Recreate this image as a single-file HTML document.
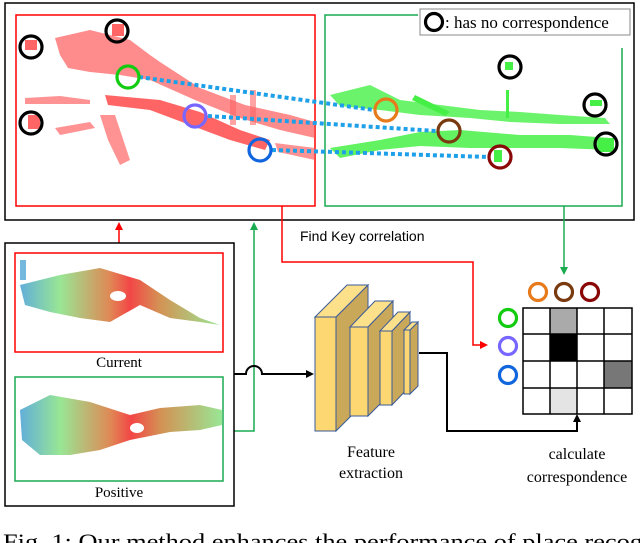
<!DOCTYPE html>
<html><head><style>
html,body{margin:0;padding:0;background:#fff;width:640px;height:543px;overflow:hidden}
svg{display:block}
</style></head><body>
<svg width="640" height="543" viewBox="0 0 640 543" xmlns="http://www.w3.org/2000/svg">
<defs>
<linearGradient id="g1" x1="0" x2="1" y1="0" y2="0">
<stop offset="0" stop-color="#3a9ad0"/><stop offset="0.2" stop-color="#7fe07a"/><stop offset="0.45" stop-color="#d86a2a"/><stop offset="0.55" stop-color="#f01818"/><stop offset="0.7" stop-color="#c8782a"/><stop offset="1" stop-color="#7fe07a"/>
</linearGradient>
<marker id="ab" markerWidth="8" markerHeight="8" refX="6" refY="4" orient="auto" markerUnits="userSpaceOnUse"><path d="M0,0 L8,4 L0,8 z" fill="#000"/></marker>
<marker id="ar" markerWidth="8" markerHeight="8" refX="6" refY="4" orient="auto" markerUnits="userSpaceOnUse"><path d="M0,0 L8,4 L0,8 z" fill="#f00"/></marker>
<marker id="ag" markerWidth="8" markerHeight="8" refX="6" refY="4" orient="auto" markerUnits="userSpaceOnUse"><path d="M0,0 L8,4 L0,8 z" fill="#1aaa50"/></marker>
</defs>
<rect x="5" y="3" width="629" height="217" fill="#fff" stroke="#000" stroke-width="1.5"/>
<rect x="16" y="15" width="299" height="191" fill="none" stroke="#f00" stroke-width="1.5"/>
<path d="M418,15 H325 V206 H622 V48" fill="none" stroke="#1aaa50" stroke-width="1.5"/>
<g fill="#f55" opacity="0.9">
<path d="M55,38 L90,30 L130,40 L150,55 L160,62 L200,88 L245,105 L290,115 L315,122 L315,138 L280,130 L240,118 L195,100 L150,80 L120,75 L90,72 L68,68 L60,55 z" opacity="0.75"/>
<path d="M105,95 L160,100 L200,112 L240,130 L270,140 L265,150 L230,140 L190,125 L150,110 L108,105 z"/>
<path d="M25,98 L60,96 L90,100 L90,104 L60,104 L25,104 z" opacity="0.7"/>
<path d="M55,128 L90,122 L95,128 L60,135 z" opacity="0.7"/>
<path d="M100,115 L115,115 L130,160 L120,165 L108,140 z" opacity="0.7"/>
<path d="M275,143 L315,148 L315,160 L278,152 z" opacity="0.7"/>
<rect x="28" y="115" width="12" height="14"/><rect x="112" y="24" width="12" height="12"/><rect x="25" y="40" width="12" height="10"/>
<rect x="230" y="95" width="6" height="30" opacity="0.6"/><rect x="250" y="90" width="6" height="35" opacity="0.6"/>
</g>
<g fill="#3e3" opacity="0.9">
<path d="M330,95 L370,85 L400,100 L440,105 L480,110 L520,112 L560,115 L605,118 L610,124 L560,124 L510,122 L470,118 L420,115 L380,110 L340,106 z" opacity="0.8"/>
<path d="M330,148 L380,140 L420,132 L460,130 L520,135 L570,135 L610,138 L612,150 L560,148 L520,148 L470,148 L420,146 L380,150 L340,158 z" opacity="0.85"/>
<path d="M415,95 L450,112 L445,116 L412,100 z"/>
<rect x="505" y="62" width="8" height="8"/><rect x="590" y="100" width="12" height="6"/><rect x="598" y="138" width="16" height="14"/><rect x="494" y="150" width="8" height="12"/>
<rect x="506" y="90" width="3" height="28"/>
</g>
<g stroke="#1ea0e8" stroke-width="4" stroke-dasharray="4,3" fill="none">
<line x1="139" y1="77" x2="374" y2="110"/>
<line x1="208" y1="116" x2="436" y2="131"/>
<line x1="272" y1="150" x2="489" y2="157"/>
</g>
<g fill="none" stroke-width="3.2">
<circle cx="31" cy="47" r="11" stroke="#000"/>
<circle cx="117" cy="31" r="11" stroke="#000"/>
<circle cx="31" cy="123" r="11" stroke="#000"/>
<circle cx="128" cy="77" r="11" stroke="#1c1"/>
<circle cx="195" cy="116" r="11" stroke="#76f"/>
<circle cx="260" cy="150" r="11" stroke="#16d"/>
<circle cx="386" cy="110" r="11" stroke="#e77a1a"/>
<circle cx="449" cy="131" r="11" stroke="#7a3a10"/>
<circle cx="500" cy="157" r="11" stroke="#8a0808"/>
<circle cx="510" cy="67" r="11" stroke="#000"/>
<circle cx="595" cy="105" r="11" stroke="#000"/>
<circle cx="606" cy="144" r="11" stroke="#000"/>
</g>
<rect x="420" y="9" width="210" height="26" fill="#fff" stroke="#888" stroke-width="1"/>
<circle cx="434" cy="22" r="8.5" fill="none" stroke="#000" stroke-width="3.2"/>
<text x="445" y="28" font-family="Liberation Serif, serif" font-size="17" fill="#000">: has no correspondence</text>
<line x1="119" y1="253" x2="119" y2="224" stroke="#f00" stroke-width="1.5" marker-end="url(#ar)"/>
<path d="M223,431 H254 V224" fill="none" stroke="#1aaa50" stroke-width="1.5" marker-end="url(#ag)"/>
<path d="M282,206 V262 H473 V345 H486" fill="none" stroke="#f00" stroke-width="1.5" marker-end="url(#ar)"/>
<line x1="564" y1="206" x2="564" y2="273" stroke="#1aaa50" stroke-width="1.5" marker-end="url(#ag)"/>
<text x="300" y="241" font-family="Liberation Sans, sans-serif" font-size="14" fill="#000">Find Key correlation</text>
<rect x="5" y="243" width="229" height="263" fill="#fff" stroke="#000" stroke-width="1.5"/>
<rect x="15" y="253" width="208" height="99" fill="none" stroke="#f00" stroke-width="1.5"/>
<path d="M20,285 L60,275 L100,268 L140,280 L170,300 L200,318 L220,325 L200,322 L170,318 L140,305 L110,322 L80,318 L50,312 L25,305 z" fill="url(#g1)" opacity="0.8"/>
<rect x="20" y="260" width="6" height="20" fill="#3a9ad0" opacity="0.7"/>
<ellipse cx="118" cy="296" rx="8" ry="5" fill="#fff"/>
<text x="119" y="367" text-anchor="middle" font-family="Liberation Serif, serif" font-size="15">Current</text>
<rect x="15" y="377" width="208" height="104" fill="none" stroke="#1aaa50" stroke-width="1.5"/>
<path d="M20,410 L50,395 L90,402 L130,415 L160,408 L200,405 L222,410 L222,425 L200,430 L170,432 L130,440 L100,450 L70,455 L40,455 L22,440 z" fill="url(#g1)" opacity="0.8"/>
<ellipse cx="137" cy="428" rx="7" ry="5" fill="#fff"/>
<text x="119" y="497" text-anchor="middle" font-family="Liberation Serif, serif" font-size="15">Positive</text>
<path d="M234,374 H246 A8,8 0 0 1 262,374 H312" fill="none" stroke="#000" stroke-width="2" marker-end="url(#ab)"/>
<g stroke="#3a5a9a" stroke-width="1">
<polygon points="336,317 368,285 368,399 336,431" fill="#c9a85a"/>
<polygon points="315,317 347,285 368,285 336,317" fill="#fde08a"/>
<rect x="315" y="317" width="21" height="114" fill="#fcd772"/>
<polygon points="368,327 393,301 393,391 368,416" fill="#c9a85a"/>
<polygon points="350,327 375,301 393,301 368,327" fill="#fde08a"/>
<rect x="350" y="327" width="18" height="89" fill="#fcd772"/>
<polygon points="392,331 410,312 410,386 392,405" fill="#c9a85a"/>
<polygon points="380,331 398,312 410,312 392,331" fill="#fde08a"/>
<rect x="380" y="331" width="12" height="74" fill="#fcd772"/>
<polygon points="410,330 418,322 418,386 410,394" fill="#c9a85a"/>
<polygon points="404,330 412,322 418,322 410,330" fill="#fde08a"/>
<rect x="404" y="330" width="6" height="64" fill="#fcd772"/>
</g>
<path d="M419,353 H447 V431 H577 V416" fill="none" stroke="#000" stroke-width="2" marker-end="url(#ab)"/>
<text x="371" y="457" text-anchor="middle" font-family="Liberation Serif, serif" font-size="16">Feature</text>
<text x="371" y="478" text-anchor="middle" font-family="Liberation Serif, serif" font-size="16">extraction</text>
<rect x="550" y="308" width="27" height="26" fill="#aaa"/>
<rect x="550" y="334" width="27" height="27" fill="#000"/>
<rect x="604" y="361" width="28" height="27" fill="#777"/>
<rect x="550" y="388" width="27" height="26" fill="#e4e4e4"/>
<g stroke="#000" stroke-width="1.5" fill="none">
<rect x="523" y="308" width="109" height="106"/>
<line x1="550" y1="308" x2="550" y2="414"/><line x1="577" y1="308" x2="577" y2="414"/><line x1="604" y1="308" x2="604" y2="414"/>
<line x1="523" y1="334" x2="632" y2="334"/><line x1="523" y1="361" x2="632" y2="361"/><line x1="523" y1="388" x2="632" y2="388"/>
</g>
<g fill="none" stroke-width="3.2">
<circle cx="538" cy="292" r="8.5" stroke="#e77a1a"/>
<circle cx="564" cy="292" r="8.5" stroke="#7a3a10"/>
<circle cx="590" cy="292" r="8.5" stroke="#8a0808"/>
<circle cx="508" cy="318" r="8.5" stroke="#1c1"/>
<circle cx="508" cy="346" r="8.5" stroke="#76f"/>
<circle cx="508" cy="375" r="8.5" stroke="#16d"/>
</g>
<text x="577" y="459" text-anchor="middle" font-family="Liberation Serif, serif" font-size="16">calculate</text>
<text x="577" y="482" text-anchor="middle" font-family="Liberation Serif, serif" font-size="16">correspondence</text>
<text x="3" y="549" font-family="Liberation Serif, serif" font-size="22" textLength="640" lengthAdjust="spacingAndGlyphs">Fig. 1: Our method enhances the performance of place recog</text>
</svg>
</body></html>
